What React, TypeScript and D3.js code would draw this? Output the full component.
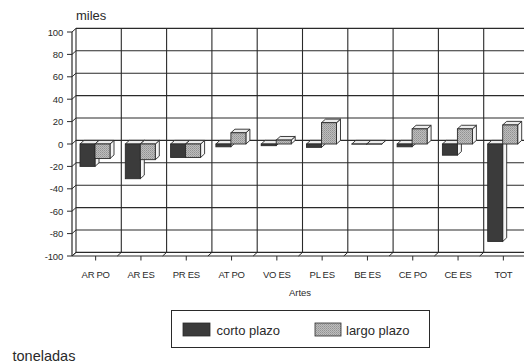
import React from "react";
import * as d3 from "d3";

// Saldo de capturas por arte de pesca (miles de toneladas)
const categories = ["AR PO", "AR ES", "PR ES", "AT PO", "VO ES", "PL ES", "BE ES", "CE PO", "CE ES", "TOT"];
const cortoPlazo = [-20, -31, -12, -2.5, -1.5, -3, 0, -2.5, -10, -87];
const largoPlazo = [-13, -14, -12, 10, 3.5, 19, 0, 13.5, 13.5, 17];
const seriesNames = ["corto plazo", "largo plazo"];
const yTicks = [100, 80, 60, 40, 20, 0, -20, -40, -60, -80, -100];

const W = 524;
const H = 364;
const FONT = "'Liberation Sans', Arial, Helvetica, sans-serif";
const INK = "#2a2a2a";
// depth offset of the pseudo-3D box
const DX = 4;
const DY = -3.6;

export default function App() {
  const left = 72;
  const bandW = 45.3;
  const x = d3
    .scaleBand<string>()
    .domain(categories)
    .range([left, left + bandW * categories.length])
    .paddingInner(0)
    .paddingOuter(0);
  const y = d3.scaleLinear().domain([-100, 100]).range([256, 32]);
  const inner = d3.scaleBand<string>().domain(seriesNames).range([8, 38]).padding(0);

  const yTop = y(100);
  const yBot = y(-100);
  const right = x.range()[1];

  const fills = ["#3b3b3b", "url(#stipple)"];
  const values = [cortoPlazo, largoPlazo];

  const bar = (cat: string, si: number, v: number) => {
    const x0 = (x(cat) as number) + (inner(seriesNames[si]) as number);
    const w = inner.bandwidth();
    const x1 = x0 + w;
    const y0 = y(0);
    const yv = y(v);
    const top = Math.min(y0, yv);
    const bottom = Math.max(y0, yv);
    const topFace = `M${x0},${top} L${x0 + DX},${top + DY} L${x1 + DX},${top + DY} L${x1},${top} Z`;
    const sideFace = `M${x1},${top} L${x1 + DX},${top + DY} L${x1 + DX},${bottom + DY} L${x1},${bottom} Z`;
    return (
      <g key={`${cat}-${si}`}>
        <path d={sideFace} fill="#f4f4f4" stroke={INK} strokeWidth={0.9} strokeLinejoin="round" />
        <path d={topFace} fill="#ececec" stroke={INK} strokeWidth={0.9} strokeLinejoin="round" />
        <rect x={x0} y={top} width={w} height={Math.max(bottom - top, 0.01)} fill={fills[si]} stroke={INK} strokeWidth={0.9} />
      </g>
    );
  };

  return (
    <svg
      width={W}
      height={H}
      viewBox={`0 0 ${W} ${H}`}
      style={{ position: "fixed", left: 0, top: 0, background: "#fff" }}
      fontFamily={FONT}
    >
      <defs>
        <pattern id="stipple" width={2} height={2} patternUnits="userSpaceOnUse">
          <rect width={2} height={2} fill="#bdbdbd" />
          <rect width={1} height={1} fill="#929292" />
          <rect x={1} y={1} width={1} height={1} fill="#a2a2a2" />
        </pattern>
      </defs>

      <text x={76} y={20} fontSize={13} fill={INK}>miles</text>

      {/* back wall: horizontal grid */}
      {yTicks.map((t) => (
        <line key={`h${t}`} x1={left + DX} x2={right + DX} y1={y(t) + DY} y2={y(t) + DY} stroke={INK} strokeWidth={1.1} />
      ))}
      {/* back wall: vertical grid at category boundaries */}
      {categories.map((c) => (
        <line
          key={`v${c}`}
          x1={(x(c) as number) + DX}
          x2={(x(c) as number) + DX}
          y1={yTop + DY}
          y2={yBot + DY}
          stroke={INK}
          strokeWidth={1.1}
        />
      ))}

      {/* left wall and floor */}
      <line x1={left} x2={left} y1={yTop} y2={yBot} stroke={INK} strokeWidth={1.2} />
      <line x1={left} x2={right} y1={yBot} y2={yBot} stroke={INK} strokeWidth={1.2} />
      {yTicks.map((t) => (
        <g key={`yt${t}`}>
          <line x1={left - 5} x2={left} y1={y(t)} y2={y(t)} stroke={INK} strokeWidth={1} />
          <line x1={left} x2={left + DX} y1={y(t)} y2={y(t) + DY} stroke={INK} strokeWidth={1} />
          <text x={63} y={y(t) + 3.5} fontSize={9.5} textAnchor="end" fill={INK} letterSpacing={-0.2}>
            {t}
          </text>
        </g>
      ))}
      {categories.map((c) => (
        <line
          key={`f${c}`}
          x1={(x(c) as number)}
          x2={(x(c) as number) + DX}
          y1={yBot}
          y2={yBot + DY}
          stroke={INK}
          strokeWidth={1}
        />
      ))}

      {/* bars */}
      {categories.map((c, i) => (
        <g key={`b${c}`}>
          {values.map((vals, si) => bar(c, si, vals[i]))}
        </g>
      ))}

      {/* category axis */}
      {categories.map((c) => {
        const cx = (x(c) as number) + x.bandwidth() / 2 + 1;
        return (
          <g key={`xt${c}`}>
            <line x1={cx} x2={cx} y1={yBot} y2={yBot + 4.5} stroke={INK} strokeWidth={1} />
            <text x={cx} y={277.5} fontSize={9.5} textAnchor="middle" fill={INK} letterSpacing={-0.3}>
              {c}
            </text>
          </g>
        );
      })}
      <text x={300} y={295.5} fontSize={9.5} textAnchor="middle" fill={INK}>Artes</text>

      {/* legend */}
      <rect x={171.5} y={310.5} width={258} height={37} fill="none" stroke={INK} strokeWidth={1} />
      <rect x={183} y={323} width={27} height={13} fill={fills[0]} stroke={INK} strokeWidth={0.8} />
      <text x={216.5} y={335} fontSize={13} fill={INK}>{seriesNames[0]}</text>
      <rect x={315} y={323} width={26} height={13} fill={fills[1]} stroke={INK} strokeWidth={0.8} />
      <text x={346} y={335} fontSize={13} fill={INK}>{seriesNames[1]}</text>

      <text x={12.5} y={361} fontSize={14.5} fill={INK}>toneladas</text>
    </svg>
  );
}
